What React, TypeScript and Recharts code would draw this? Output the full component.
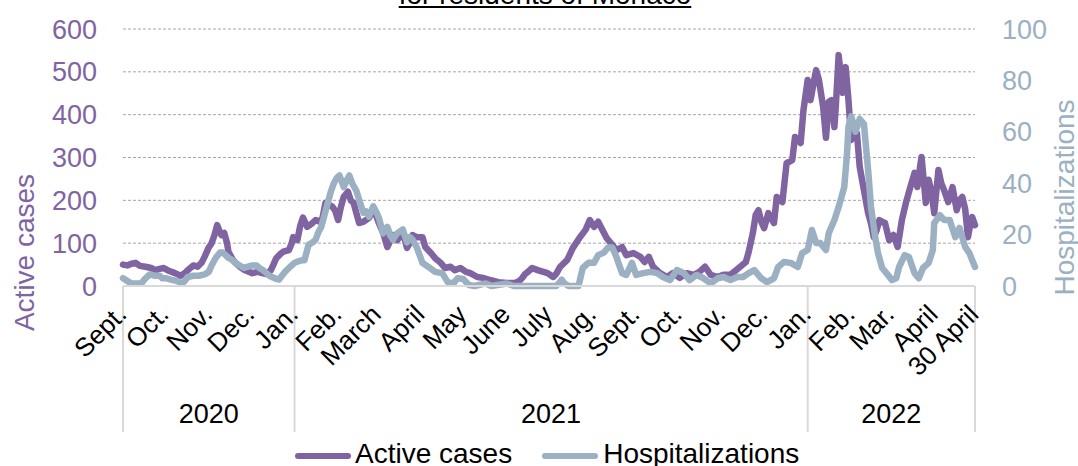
import React from "react";
import {
  LineChart,
  Line,
  XAxis,
  YAxis,
  CartesianGrid,
  Legend,
  Label,
} from "recharts";

const FONT = '"Liberation Sans", Arial, Helvetica, sans-serif';
const PURPLE = "#8064a2";
const STEEL = "#9bb0c2";

// day 0 = 1 Sept 2020, day 606 = 30 April 2022
const monthDays = [0, 30, 61, 91, 122, 153, 181, 212, 242, 273, 303, 334, 365, 395, 426, 456, 487, 518, 546, 577, 606];
const monthLabels = [
  "Sept.", "Oct.", "Nov.", "Dec.", "Jan.", "Feb.", "March", "April", "May", "June", "July",
  "Aug.", "Sept.", "Oct.", "Nov.", "Dec.", "Jan.", "Feb.", "Mar.", "April", "30 April",
];
const yearStartDays = [0, 122, 487, 606];
const yearLabels = ["2020", "2021", "2022"];

const caseDays = [
  0, 3, 6, 9, 12, 16, 20, 23, 26, 29, 33, 37, 41, 44, 46, 50, 53, 56, 58, 61, 63, 65, 67, 69, 70, 72, 74, 75, 78, 80,
  83, 86, 89, 92, 96, 99, 102, 105, 107, 109, 112, 114, 118, 120, 121, 124, 126, 128, 131, 134, 137, 140, 142, 144, 146, 149, 151, 153, 155, 157,
  160, 162, 164, 166, 168, 171, 175, 178, 180, 182, 185, 188, 190, 192, 195, 197, 199, 202, 204, 206, 209, 213, 215, 219, 222, 226, 229, 233, 236, 240,
  244, 247, 252, 256, 261, 267, 273, 279, 282, 284, 286, 288, 291, 295, 299, 302, 306, 308, 311, 316, 320, 325, 329, 332, 335, 338, 341, 344, 348, 351,
  355, 358, 363, 368, 371, 374, 377, 382, 387, 391, 396, 401, 406, 410, 414, 418, 423, 427, 432, 436, 439, 443, 445, 448, 450, 452, 454, 456, 459, 463,
  465, 469, 472, 476, 478, 482, 484, 487, 489, 491, 493, 495, 498, 500, 502, 504, 506, 507, 509, 512, 514, 516, 518, 520, 522, 524, 527, 530, 532, 534,
  536, 538, 540, 542, 545, 548, 551, 554, 557, 560, 563, 565, 567, 568, 571, 573, 575, 577, 580, 582, 584, 587, 590, 593, 595, 597, 599, 601, 603, 604, 606,
];
const caseValues = [
  50, 48, 52, 54, 47, 45, 42, 37, 40, 42, 35, 30, 24, 30, 37, 48, 45, 55, 68, 90, 100, 118, 142, 125, 119, 124, 100, 80, 62, 54,
  45, 38, 34, 30, 33, 30, 28, 36, 50, 65, 75, 80, 84, 100, 114, 107, 140, 160, 138, 145, 154, 150, 160, 194, 190, 185, 175, 154, 185, 208,
  220, 200, 194, 170, 147, 150, 159, 177, 165, 147, 124, 91, 105, 119, 107, 115, 126, 89, 100, 119, 114, 114, 91, 77, 65, 54, 42, 45, 37, 42,
  33, 30, 21, 19, 14, 9, 7, 7, 12, 19, 28, 33, 42, 37, 33, 30, 21, 28, 45, 61, 89, 114, 131, 154, 138, 150, 131, 112, 96, 84,
  91, 72, 77, 68, 56, 68, 45, 30, 21, 30, 19, 30, 26, 33, 45, 26, 21, 26, 26, 37, 45, 56, 79, 124, 166, 177, 150, 135, 170, 147,
  208, 196, 287, 294, 348, 334, 411, 481, 434, 470, 504, 481, 418, 346, 430, 434, 371, 420, 539, 451, 511, 434, 341, 360, 357, 278, 224, 170, 147, 114,
  130, 154, 150, 147, 107, 119, 91, 154, 196, 231, 264, 231, 280, 301, 194, 248, 220, 170, 271, 240, 224, 196, 231, 177, 200, 208, 180, 114, 150, 161, 142,
];

const hospDays = [
  0, 3, 6, 10, 13, 16, 19, 23, 26, 28, 31, 34, 38, 42, 44, 46, 50, 54, 58, 61, 63, 66, 69, 71, 73, 75, 78, 80, 83, 86,
  89, 92, 95, 97, 100, 104, 108, 111, 113, 116, 119, 122, 124, 127, 129, 132, 135, 137, 139, 141, 144, 146, 148, 150, 152, 154, 157, 159, 161, 163,
  166, 168, 171, 173, 175, 178, 180, 182, 185, 188, 190, 192, 195, 199, 202, 204, 206, 209, 211, 213, 217, 222, 227, 231, 235, 238, 242, 246, 250, 258,
  262, 273, 278, 308, 310, 312, 314, 317, 324, 327, 331, 335, 338, 342, 345, 348, 351, 353, 355, 358, 362, 365, 370, 375, 380, 384, 389, 394, 399, 403,
  408, 413, 418, 423, 427, 432, 437, 441, 445, 449, 454, 458, 463, 466, 470, 475, 480, 483, 487, 490, 493, 496, 500, 502, 506, 509, 513, 515, 516, 518,
  521, 524, 527, 530, 532, 535, 537, 540, 543, 547, 550, 552, 556, 559, 563, 566, 569, 573, 576, 577, 581, 584, 588, 592, 595, 599, 602, 606,
];
const hospValues = [
  3, 2, 1, 1, 1, 3, 4.5, 4, 4, 3, 3, 2.5, 2, 1, 2, 3.5, 4, 4, 4.5, 5.5, 8, 11, 13, 13, 12, 11, 10, 9, 8, 7,
  7.5, 8, 8, 7, 6, 4, 3, 2.5, 4, 6, 7.5, 9, 9.5, 10, 10, 16, 17, 18, 21, 23, 29, 33, 37, 40, 42, 43, 38.5, 41, 43, 40,
  37, 33.5, 28.5, 29, 27, 31, 29, 26.5, 20.5, 23, 20, 18, 20.5, 22, 17, 19, 18, 15, 12, 9, 7.5, 5.5, 5, 1.5, 1, 3, 2.7, 0.4, 0, 1,
  0, 1, 0, 0, 1, 2.5, 1, 0, 0, 7, 9, 9, 12, 13, 15, 15, 11.3, 8, 5, 4.3, 9, 4.3, 5, 5.5, 5, 3.5, 2.3, 6.2, 5, 2.3,
  4.3, 3, 1, 3, 3.5, 2.3, 3.5, 3.5, 5, 6.2, 3, 1.5, 3, 7.4, 9.3, 9, 7.4, 12.8, 14, 21.8, 16.7, 16.7, 14, 20.6, 25.7, 30.7, 38.5, 51.7, 62, 66,
  60, 65, 63, 45, 31, 19, 12.8, 7, 5, 2.3, 3, 7.4, 12, 11.3, 5, 3, 7, 9, 14, 24.5, 27.6, 25.7, 25.7, 19, 22.6, 15.2, 12.8, 7.4,
];

const leftTicks = [0, 100, 200, 300, 400, 500, 600];
const rightTicks = [0, 20, 40, 60, 80, 100];

const W = 1078;
const H = 466;
const LEFT_W = 123;
const RIGHT_W = 103;
const PLOT_W = W - LEFT_W - RIGHT_W;
const DAY_SPAN = 606;

// merge both series on one day axis
const rows = Array.from(new Set([...caseDays, ...hospDays]))
  .sort((a, b) => a - b)
  .map((day) => {
    const ci = caseDays.indexOf(day);
    const hi = hospDays.indexOf(day);
    return {
      day,
      cases: ci >= 0 ? caseValues[ci] : undefined,
      hosp: hi >= 0 ? hospValues[hi] : undefined,
    };
  });

function MonthTick(props: any) {
  const { x, y, payload } = props;
  const day = payload.value;
  const i = monthDays.indexOf(day);
  const b = yearStartDays.indexOf(day);
  const ax = x + 5;
  const ay = y + 30;
  return (
    <g>
      {b >= 0 && (
        <line x1={x} x2={x} y1={y} y2={y + 146} stroke="#d9d9d9" strokeWidth={2} />
      )}
      <text
        x={ax}
        y={ay}
        transform={`rotate(-45 ${ax} ${ay})`}
        textAnchor="end"
        fontSize={26}
        fontFamily={FONT}
        fill="#000"
      >
        {monthLabels[i]}
      </text>
      {b >= 0 && b < yearLabels.length && (
        <text
          x={x + ((yearStartDays[b + 1] - day) * PLOT_W) / DAY_SPAN / 2}
          y={y + 137}
          textAnchor="middle"
          fontSize={27}
          fontFamily={FONT}
          fill="#000"
        >
          {yearLabels[b]}
        </text>
      )}
    </g>
  );
}

function LegendBox() {
  const icon = (color: string) => ({
    display: "inline-block",
    width: 56,
    height: 6,
    borderRadius: 3,
    background: color,
    marginTop: 4,
  });
  return (
    <div
      style={{
        display: "flex",
        alignItems: "center",
        paddingLeft: 295,
        fontFamily: FONT,
        fontSize: 28,
        lineHeight: "32px",
        color: "#000",
        whiteSpace: "nowrap",
      }}
    >
      <span style={{ ...icon(PURPLE), marginRight: 4 }} />
      <span>Active cases</span>
      <span style={{ ...icon(STEEL), marginLeft: 30, marginRight: 5 }} />
      <span>Hospitalizations</span>
    </div>
  );
}

export default function App() {
  return (
    <div style={{ position: "relative", width: W, height: H, overflow: "hidden", background: "#fff" }}>
      <style>{"html, body { margin: 0; padding: 0; overflow: hidden; }"}</style>
      <div
        style={{
          position: "absolute",
          left: 545,
          top: -21,
          transform: "translateX(-50%)",
          fontFamily: FONT,
          fontSize: 28,
          textDecoration: "underline",
          whiteSpace: "nowrap",
          color: "#000",
        }}
      >
        for residents of Monaco
      </div>
      <LineChart
        width={W}
        height={H}
        data={rows}
        margin={{ top: 29, right: 0, bottom: 0, left: 0 }}
        style={{ fontFamily: FONT }}
      >
        <CartesianGrid
          yAxisId="left"
          vertical={false}
          stroke="#a6a6a6"
          strokeDasharray="3 2"
        />
        <XAxis
          dataKey="day"
          type="number"
          domain={[0, DAY_SPAN]}
          ticks={monthDays}
          interval={0}
          height={180}
          tickSize={0}
          tickMargin={0}
          tickLine={false}
          axisLine={{ stroke: "#d9d9d9", strokeWidth: 2 }}
          tick={<MonthTick />}
        />
        <YAxis
          yAxisId="left"
          width={LEFT_W}
          domain={[0, 600]}
          ticks={leftTicks}
          axisLine={false}
          tickLine={false}
          tickSize={0}
          tickMargin={26}
          tick={{ fill: PURPLE, fontSize: 27, fontFamily: FONT }}
        >
          <Label
            content={(p: any) => {
              const vb = p.viewBox || { x: 0, y: 29, height: 257 };
              const cx = vb.x + 24;
              const cy = vb.y + vb.height / 2 + 95;
              return (
                <text
                  x={cx}
                  y={cy}
                  transform={`rotate(-90 ${cx} ${cy})`}
                  textAnchor="middle"
                  dominantBaseline="central"
                  fontSize={28}
                  fontFamily={FONT}
                  fill={PURPLE}
                >
                  Active cases
                </text>
              );
            }}
          />
        </YAxis>
        <YAxis
          yAxisId="right"
          orientation="right"
          width={RIGHT_W}
          domain={[0, 100]}
          ticks={rightTicks}
          axisLine={false}
          tickLine={false}
          tickSize={0}
          tickMargin={27}
          tick={{ fill: STEEL, fontSize: 27, fontFamily: FONT }}
        >
          <Label
            content={(p: any) => {
              const vb = p.viewBox || { x: 975, y: 29, height: 257 };
              const cx = vb.x + 89;
              const cy = vb.y + vb.height / 2 + 40;
              return (
                <text
                  x={cx}
                  y={cy}
                  transform={`rotate(-90 ${cx} ${cy})`}
                  textAnchor="middle"
                  dominantBaseline="central"
                  fontSize={28}
                  fontFamily={FONT}
                  fill={STEEL}
                >
                  Hospitalizations
                </text>
              );
            }}
          />
        </YAxis>
        <Line
          yAxisId="left"
          type="linear"
          dataKey="cases"
          name="Active cases"
          stroke={PURPLE}
          strokeWidth={6.5}
          strokeLinejoin="round"
          strokeLinecap="round"
          dot={false}
          connectNulls
          isAnimationActive={false}
        />
        <Line
          yAxisId="right"
          type="linear"
          dataKey="hosp"
          name="Hospitalizations"
          stroke={STEEL}
          strokeWidth={6.5}
          strokeLinejoin="round"
          strokeLinecap="round"
          dot={false}
          connectNulls
          isAnimationActive={false}
        />
        <Legend
          layout="horizontal"
          verticalAlign="middle"
          align="center"
          wrapperStyle={{ top: 438, left: 0, width: W, height: 32 }}
          content={() => <LegendBox />}
        />
      </LineChart>
    </div>
  );
}
